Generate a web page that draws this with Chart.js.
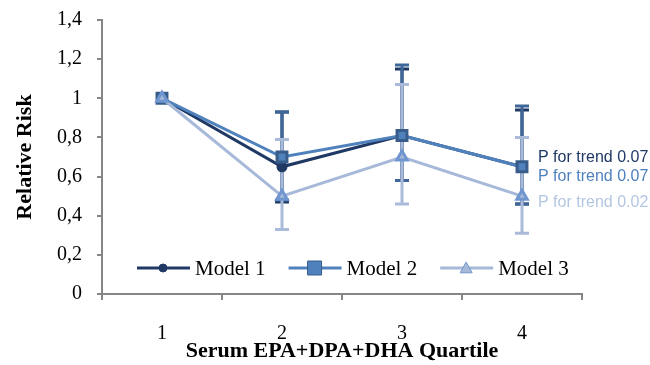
<!DOCTYPE html>
<html>
<head>
<meta charset="utf-8">
<script src="https://cdn.jsdelivr.net/npm/chart.js@4/dist/chart.umd.min.js"></script>
<style>
  html, body { margin: 0; padding: 0; background: #fff; }
  #wrap { width: 650px; height: 365px; }
</style>
</head>
<body>
<div id="wrap"><canvas id="rrChart" width="650" height="365"></canvas></div>
<script>
const quartiles = ["1", "2", "3", "4"];

const model1 = [1, 0.65, 0.81, 0.65];
const model2 = [1, 0.70, 0.81, 0.65];
const model3 = [1, 0.50, 0.70, 0.50];

// confidence intervals (no bar for the reference quartile)
const model1Low = [null, 0.47, 0.58, 0.46];
const model1High = [null, 0.93, 1.15, 0.94];
const model2Low = [null, 0.48, 0.58, 0.46];
const model2High = [null, 0.93, 1.17, 0.96];
const model3Low = [null, 0.33, 0.46, 0.31];
const model3High = [null, 0.79, 1.07, 0.80];

const trendLabels = ["P for trend 0.07", "P for trend 0.07", "P for trend 0.02"];
const trendAt = [0.695, 0.598, 0.465];

const serif = "'Liberation Serif', 'Times New Roman', serif";
const sans = "'Liberation Sans', Arial, sans-serif";

const errorBars = {
  id: "errorBars",
  beforeDatasetsDraw(chart) {
    const ctx = chart.ctx;
    const y = chart.scales.y;
    chart.data.datasets.forEach((ds, i) => {
      const meta = chart.getDatasetMeta(i);
      ctx.save();
      ctx.strokeStyle = ds.errColor;
      ctx.lineWidth = 3;
      meta.data.forEach((pt, j) => {
        if (ds.low[j] == null) return;
        const yl = y.getPixelForValue(ds.low[j]);
        const yh = y.getPixelForValue(ds.high[j]);
        ctx.beginPath();
        ctx.moveTo(pt.x, yl);
        ctx.lineTo(pt.x, yh);
        ctx.moveTo(pt.x - 7, yl);
        ctx.lineTo(pt.x + 7, yl);
        ctx.moveTo(pt.x - 7, yh);
        ctx.lineTo(pt.x + 7, yh);
        ctx.stroke();
      });
      ctx.restore();
    });
  },
};

function drawMarker(ctx, ds, x, y) {
  ctx.save();
  ctx.fillStyle = ds.pointBackgroundColor;
  ctx.strokeStyle = ds.pointBorderColor;
  ctx.lineWidth = 1;
  const r = ds.pointRadius;
  ctx.beginPath();
  if (ds.pointStyle === "rect") {
    ctx.rect(x - r, y - r, 2 * r, 2 * r);
  } else if (ds.pointStyle === "triangle") {
    ctx.moveTo(x, y - r);
    ctx.lineTo(x + r, y + r * 0.8);
    ctx.lineTo(x - r, y + r * 0.8);
    ctx.closePath();
  } else {
    ctx.arc(x, y, r, 0, Math.PI * 2);
  }
  ctx.fill();
  ctx.stroke();
  ctx.restore();
}

const insideLegend = {
  id: "insideLegend",
  afterDraw(chart) {
    const ctx = chart.ctx;
    const area = chart.chartArea;
    const y = area.bottom - 26;
    let x = area.left + 35;
    ctx.save();
    ctx.font = "21px " + serif;
    ctx.textBaseline = "middle";
    chart.data.datasets.forEach((ds) => {
      ctx.strokeStyle = ds.borderColor;
      ctx.lineWidth = 3;
      ctx.beginPath();
      ctx.moveTo(x, y);
      ctx.lineTo(x + 53, y);
      ctx.stroke();
      drawMarker(ctx, ds, x + 26, y);
      ctx.fillStyle = "#000";
      ctx.fillText(ds.label, x + 58, y + 1);
      x += 58 + ctx.measureText(ds.label).width + 23;
    });
    ctx.restore();
  },
};

const trendText = {
  id: "trendText",
  afterDraw(chart) {
    const ctx = chart.ctx;
    const yScale = chart.scales.y;
    ctx.save();
    ctx.font = "16px " + sans;
    ctx.textBaseline = "middle";
    trendLabels.forEach((t, i) => {
      ctx.fillStyle = chart.data.datasets[i].textColor;
      ctx.fillText(t, chart.chartArea.right - 44, yScale.getPixelForValue(trendAt[i]));
    });
    ctx.restore();
  },
};

const data = {
  labels: quartiles,
  datasets: [
    {
      label: "Model 1",
      data: model1,
      low: model1Low,
      high: model1High,
      borderColor: "#1F3864",
      errColor: "#1F3864",
      textColor: "#1F3864",
      borderWidth: 3,
      pointStyle: "circle",
      pointRadius: 4,
      pointBackgroundColor: "#1F3864",
      pointBorderColor: "#1F3864",
      order: 3,
    },
    {
      label: "Model 2",
      data: model2,
      low: model2Low,
      high: model2High,
      borderColor: "#4F81BD",
      errColor: "#3F6699",
      textColor: "#4F81BD",
      borderWidth: 3,
      pointStyle: "rect",
      pointRadius: 7,
      pointBackgroundColor: "#4F81BD",
      pointBorderColor: "#385D8A",
      order: 2,
    },
    {
      label: "Model 3",
      data: model3,
      low: model3Low,
      high: model3High,
      borderColor: "#A7B9D9",
      errColor: "#A9BBD9",
      textColor: "#B3C6E2",
      borderWidth: 3,
      pointStyle: "triangle",
      pointRadius: 6,
      pointBackgroundColor: "#A7B9D9",
      pointBorderColor: "#7096CF",
      order: 1,
    },
  ],
};

const config = {
  type: "line",
  data: data,
  plugins: [errorBars, insideLegend, trendText],
  options: {
    responsive: false,
    animation: false,
    layout: { padding: { top: 20, right: 68, left: 0, bottom: 0 } },
    plugins: {
      legend: { display: false },
      tooltip: { enabled: false },
    },
    elements: { line: { tension: 0 } },
    scales: {
      x: {
        offset: true,
        grid: {
          offset: true,
          drawOnChartArea: false,
          color: "#868686",
          lineWidth: 2,
          tickLength: 6,
        },
        border: { color: "#868686", width: 2 },
        ticks: {
          color: "#000",
          padding: 22,
          font: { family: serif, size: 20 },
        },
        title: {
          display: true,
          text: "Serum EPA+DPA+DHA Quartile",
          color: "#000",
          font: { family: serif, size: 22, weight: "bold" },
          padding: { top: 0, bottom: 0 },
        },
        afterFit(scale) {
          scale.height = 71;
        },
      },
      y: {
        min: 0,
        max: 1.4,
        grid: {
          drawOnChartArea: false,
          color: "#868686",
          lineWidth: 2,
          tickLength: 5,
        },
        border: { color: "#868686", width: 2 },
        ticks: {
          stepSize: 0.2,
          color: "#000",
          padding: 15,
          font: { family: serif, size: 20 },
          callback: (v) => String(Math.round(v * 10) / 10).replace(".", ","),
        },
        title: {
          display: true,
          text: "Relative Risk",
          color: "#000",
          font: { family: serif, size: 22, weight: "bold" },
          padding: { top: 12, bottom: 0 },
        },
        afterFit(scale) {
          scale.width = 102;
          scale.paddingTop = 0;
          scale.paddingBottom = 0;
        },
      },
    },
  },
};

new Chart(document.getElementById("rrChart").getContext("2d"), config);
</script>
</body>
</html>
